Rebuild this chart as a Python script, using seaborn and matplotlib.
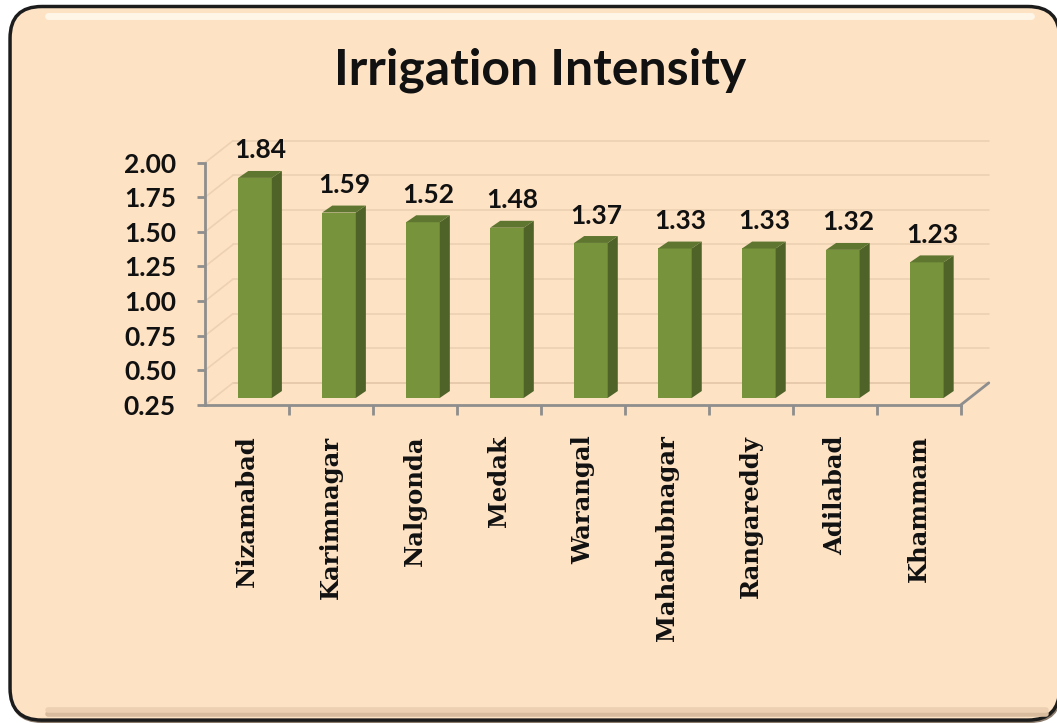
import matplotlib.pyplot as plt
import seaborn as sns
from matplotlib.patches import FancyBboxPatch, Polygon
from matplotlib.lines import Line2D

# --- data ---
districts = ['Nizamabad', 'Karimnagar', 'Nalgonda', 'Medak', 'Warangal',
             'Mahabubnagar', 'Rangareddy', 'Adilabad', 'Khammam']
intensity = [1.84, 1.59, 1.52, 1.48, 1.37, 1.33, 1.33, 1.32, 1.23]
y_ticks = [0.25, 0.50, 0.75, 1.00, 1.25, 1.50, 1.75, 2.00]

# --- style ---
sns.set_theme(style='white')
plt.rcParams['font.family'] = ['Lato', 'DejaVu Sans']

peach = '#FDE2C4'
front = '#77933C'
side = '#4F6228'
topc = '#5E7630'
axis_grey = '#8E8E8E'
wall_grid = '#EDD1B2'

fig = plt.figure(figsize=(10.57, 7.23), dpi=100)
fig.patch.set_facecolor('white')

# rounded panel (runs off the right/bottom edge like the original)
shadow = FancyBboxPatch((0.0095, 0.000), 0.995, 0.988,
                        boxstyle='round,pad=0,rounding_size=0.03',
                        mutation_aspect=1057 / 723, transform=fig.transFigure,
                        facecolor='#8a7a6a', edgecolor='none', zorder=-3)
panel = FancyBboxPatch((0.0095, 0.004), 0.993, 0.987,
                       boxstyle='round,pad=0,rounding_size=0.03',
                       mutation_aspect=1057 / 723, transform=fig.transFigure,
                       facecolor=peach, edgecolor='#1c1c1c', linewidth=2.5, zorder=-2)
fig.patches.extend([shadow, panel])
# soft highlight along the top and a brownish inner shade along the bottom
fig.lines.append(Line2D([0.045, 0.975], [0.978, 0.978], transform=fig.transFigure,
                        color='#FFF6E8', lw=5, zorder=-1, solid_capstyle='round'))
fig.lines.append(Line2D([0.045, 0.99], [0.012, 0.012], transform=fig.transFigure,
                        color='#D9BC9E', lw=4, zorder=-1, solid_capstyle='round'))
fig.lines.append(Line2D([0.045, 0.99], [0.018, 0.018], transform=fig.transFigure,
                        color='#ECD0B1', lw=4, zorder=-1, solid_capstyle='round'))

ax = fig.add_axes([0.194, 0.440, 0.715, 0.335])
ax.set_facecolor('none')

sns.barplot(x=districts, y=intensity, color=front, width=0.4, saturation=1,
            ax=ax, zorder=3)

ax.set_xlim(-0.5, len(districts) - 0.5)
ax.set_ylim(y_ticks[0], y_ticks[-1])

# depth of the pseudo-3D wall and bars, in data units
wall_dx, wall_dy = 0.333, 0.159
bar_dx, bar_dy = 0.12, 0.05
floor = y_ticks[0] + 0.05
shift = 0.095

# back wall gridlines, left wall diagonals and floor
x_left, x_right = ax.get_xlim()
for v in y_ticks:
    c = wall_grid if v > y_ticks[0] else '#E3C6A6'
    ax.plot([x_left + wall_dx, x_right + wall_dx], [v + wall_dy] * 2,
            color=c, lw=1.2, clip_on=False, zorder=1)
    ax.plot([x_left, x_left + wall_dx], [v, v + wall_dy],
            color=wall_grid, lw=1.2, clip_on=False, zorder=1)
ax.plot([x_right, x_right + wall_dx], [y_ticks[0], y_ticks[0] + wall_dy],
        color=axis_grey, lw=2, clip_on=False, zorder=2)

# turn the flat bars into boxes
for p, v in zip(ax.patches, intensity):
    x0 = p.get_x() + shift
    w = p.get_width()
    p.set_x(x0)
    p.set_y(floor)
    p.set_height(v - y_ticks[0])
    p.set_edgecolor('none')
    top = v + 0.05
    ax.add_patch(Polygon([(x0 + w, floor), (x0 + w + bar_dx, floor + bar_dy),
                          (x0 + w + bar_dx, top + bar_dy), (x0 + w, top)],
                         closed=True, facecolor=side, edgecolor='none', zorder=3))
    ax.add_patch(Polygon([(x0, top), (x0 + bar_dx, top + bar_dy),
                          (x0 + w + bar_dx, top + bar_dy), (x0 + w, top)],
                         closed=True, facecolor=topc, edgecolor='none', zorder=3))
    ax.annotate(f'{v:.2f}', (x0 + w / 2 + bar_dx / 2, top + bar_dy),
                xytext=(0, 9), textcoords='offset points', ha='center',
                va='baseline', fontsize=19, fontweight='bold', color='#111111',
                annotation_clip=False)

# axes
sns.despine(ax=ax)
for s in ['left', 'bottom']:
    ax.spines[s].set_color(axis_grey)
    ax.spines[s].set_linewidth(2)
ax.set_yticks(y_ticks)
ax.set_yticklabels([f'{t:.2f}' for t in y_ticks], fontsize=19,
                   fontweight='bold', color='#111111')
ax.tick_params(axis='y', direction='out', length=6, width=2, color=axis_grey,
               left=True, pad=15)
ax.set_xticks(range(len(districts)))
ax.set_xticklabels(districts, rotation=90, fontsize=17.5, fontweight='bold',
                   family='DejaVu Serif', color='#111111', va='top')
ax.set_xticks([i + 0.5 for i in range(len(districts))], minor=True)
ax.tick_params(axis='x', which='major', length=0, pad=22)
ax.tick_params(axis='x', which='minor', direction='out', length=7, width=2,
               color=axis_grey, bottom=True)
ax.set_xlabel('')
ax.set_ylabel('')

fig.text(0.511, 0.903, 'Irrigation Intensity', ha='center', va='center',
         fontsize=36, fontweight='bold', color='#111111')

fig.savefig('out.png', dpi=100, facecolor=fig.get_facecolor())
